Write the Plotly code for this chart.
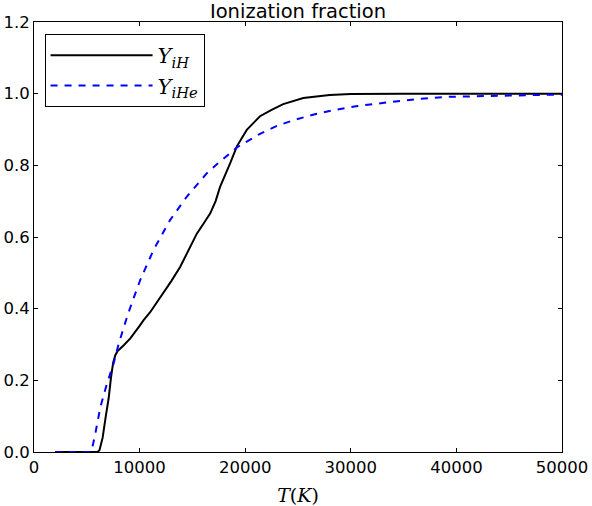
import plotly.graph_objects as go

T_H = [2000, 5000, 6000, 6200, 6500, 6800, 7070, 7300, 7500, 7700, 7920, 8500, 9120, 10000,
       10380, 11000, 12270, 13000, 13850, 14600, 15430, 16000, 16690, 17200, 17630, 18580,
       19210, 20150, 21400, 22500, 23600, 25500, 28000, 30000, 35000, 50000]
Y_H = [0, 0, 0, 0.005, 0.04, 0.10, 0.15, 0.21, 0.25, 0.27, 0.282, 0.298, 0.317, 0.352,
       0.368, 0.39, 0.443, 0.477, 0.517, 0.562, 0.61, 0.635, 0.666, 0.70, 0.741, 0.806,
       0.853, 0.899, 0.937, 0.955, 0.971, 0.988, 0.996, 0.999, 1.0, 1.0]

T_He = [2000, 5430, 5800, 6280, 6900, 7540, 8000, 8490, 8810, 9280, 10060, 11320, 12900,
        14480, 16370, 17320, 18580, 19210, 21400, 23000, 24600, 26500, 28350, 30500, 33000,
        36000, 39000, 44000, 49000, 50000]
Y_He = [0, 0, 0.05, 0.125, 0.19, 0.247, 0.30, 0.349, 0.377, 0.417, 0.48, 0.564, 0.648,
        0.713, 0.778, 0.803, 0.834, 0.85, 0.888, 0.910, 0.926, 0.942, 0.954, 0.965, 0.974,
        0.984, 0.991, 0.995, 0.997, 0.997]

fig = go.Figure()
fig.add_trace(go.Scatter(x=T_H, y=Y_H, mode="lines", name="<i>Y</i><sub><i>iH</i></sub>",
                         line=dict(color="black", width=2)))
fig.add_trace(go.Scatter(x=T_He, y=Y_He, mode="lines", name="<i>Y</i><sub><i>iHe</i></sub>",
                         line=dict(color="blue", width=2, dash="7px,7px")))

axis_common = dict(showline=True, linecolor="black", linewidth=1, mirror="ticks",
                   ticks="inside", ticklen=4, tickcolor="black", showgrid=False,
                   zeroline=False, automargin=False,
                   tickfont=dict(family="DejaVu Sans", size=16.5, color="black"))

fig.update_layout(
    width=592, height=506,
    margin=dict(l=34, r=30, t=22, b=54),
    plot_bgcolor="white", paper_bgcolor="white",
    title=dict(text="Ionization fraction", x=(34 + 562) / 2 / 592, xanchor="center",
               y=1 - 11 / 506, yanchor="middle", yref="container",
               font=dict(family="DejaVu Sans", size=19.5, color="black")),
    xaxis=dict(range=[0, 50000], tickvals=[0, 10000, 20000, 30000, 40000, 50000],
               tickformat="d",
               title=dict(text="<i>T</i>(<i>K</i>)", standoff=12,
                          font=dict(family="DejaVu Serif", size=19, color="black")),
               **axis_common),
    yaxis=dict(range=[0, 1.2], tickvals=[0, 0.2, 0.4, 0.6, 0.8, 1.0, 1.2], tickformat=".1f",
               **axis_common),
    legend=dict(x=0.02, y=0.972, xanchor="left", yanchor="top", bgcolor="white",
                bordercolor="black", borderwidth=1, itemwidth=102,
                font=dict(family="DejaVu Serif", size=21, color="black")),
    showlegend=True,
)

fig.write_html("out.html")
